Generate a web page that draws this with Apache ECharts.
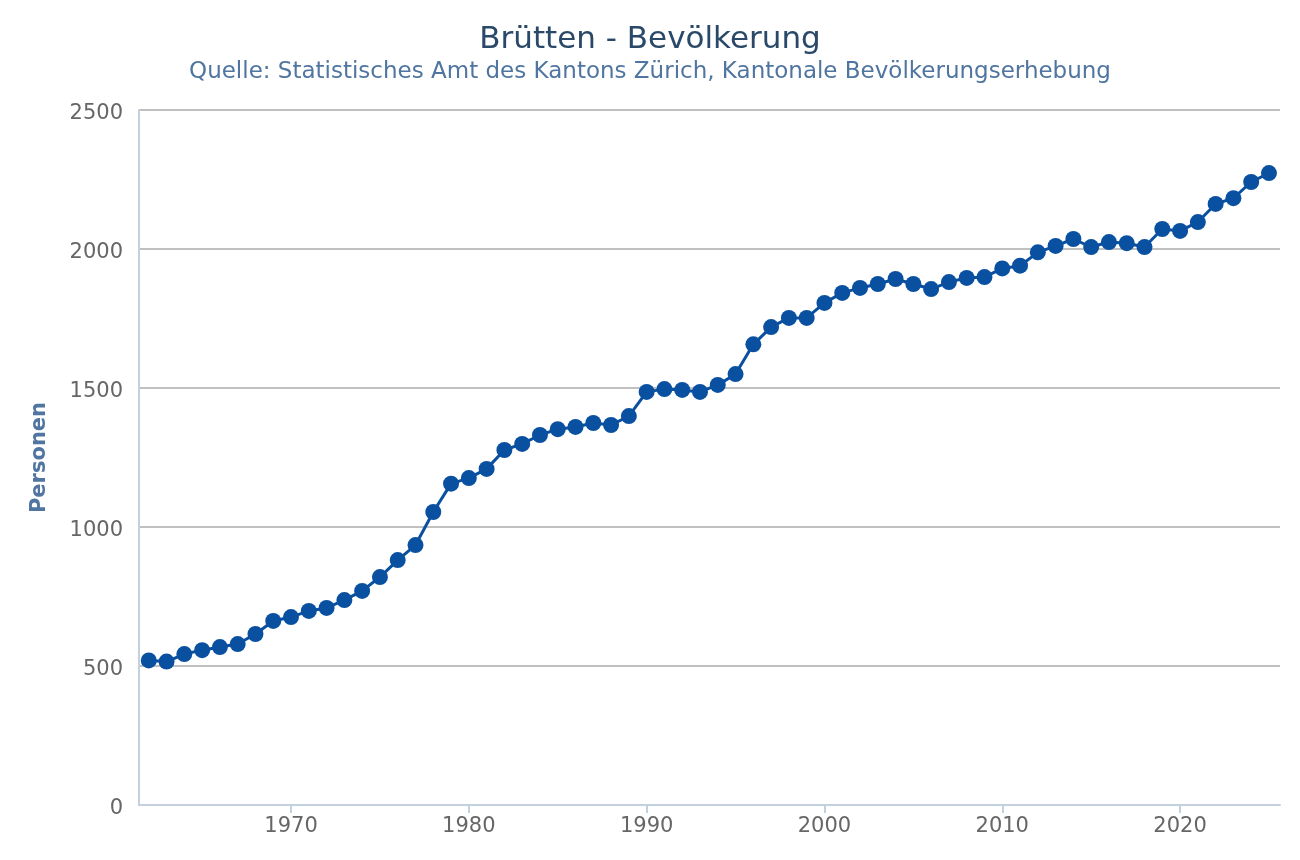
<!DOCTYPE html>
<html>
<head>
    <meta charset="utf-8" />
    <title>Brütten - Bevölkerung</title>
    <script src="https://cdn.jsdelivr.net/npm/echarts@6/dist/echarts.min.js"></script>
    <style>
        html, body { margin: 0; padding: 0; background: #fff; }
        #divChart { width: 1300px; height: 860px; }
    </style>
</head>
<body>
    <div id="divChart"></div>
    <script>
        let years = [1962, 1963, 1964, 1965, 1966, 1967, 1968, 1969, 1970, 1971,
            1972, 1973, 1974, 1975, 1976, 1977, 1978, 1979, 1980, 1981,
            1982, 1983, 1984, 1985, 1986, 1987, 1988, 1989, 1990, 1991,
            1992, 1993, 1994, 1995, 1996, 1997, 1998, 1999, 2000, 2001,
            2002, 2003, 2004, 2005, 2006, 2007, 2008, 2009, 2010, 2011,
            2012, 2013, 2014, 2015, 2016, 2017, 2018, 2019, 2020, 2021,
            2022, 2023, 2024, 2025];
        let persons = [520, 516, 543, 557, 568, 579, 615, 662, 676, 698,
            709, 737, 770, 820, 881, 935, 1054, 1156, 1176, 1209,
            1277, 1299, 1331, 1352, 1360, 1374, 1367, 1399, 1486, 1496,
            1493, 1486, 1511, 1550, 1657, 1719, 1752, 1752, 1806, 1842,
            1860, 1874, 1892, 1874, 1856, 1881, 1896, 1899, 1930, 1940,
            1988, 2011, 2036, 2007, 2025, 2021, 2007, 2072, 2065, 2097,
            2162, 2183, 2241, 2273];
        let xTicks = [1970, 1980, 1990, 2000, 2010, 2020];

        let font = 'DejaVu Sans';
        let seriesData = years.map(function (y, i) { return [y, persons[i]]; });

        let option = {
            backgroundColor: '#fff',
            animation: false,
            title: [{
                text: 'Brütten - Bevölkerung',
                left: 'center',
                top: 24,
                padding: 0,
                textStyle: { fontFamily: font, fontSize: 31, fontWeight: 'normal', color: '#2a4868' }
            }, {
                text: 'Quelle: Statistisches Amt des Kantons Zürich, Kantonale Bevölkerungserhebung',
                left: 'center',
                top: 61,
                padding: 0,
                textStyle: { fontFamily: font, fontSize: 23, fontWeight: 'normal', color: '#4f75a0' }
            }],
            grid: { left: 139, right: 20, top: 110, bottom: 55 },
            xAxis: {
                type: 'value',
                min: 1961.45,
                max: 2025.62,
                axisLine: { show: true, lineStyle: { color: '#c3d1de', width: 2 } },
                axisTick: { show: true, customValues: xTicks, length: 8, lineStyle: { color: '#c3d1de', width: 2 } },
                axisLabel: {
                    customValues: xTicks, margin: 11,
                    fontFamily: font, fontSize: 21, color: '#666',
                    formatter: function (v) { return String(v); }
                },
                splitLine: { show: false }
            },
            yAxis: {
                type: 'value',
                min: 0,
                max: 2500,
                interval: 500,
                name: 'Personen',
                nameLocation: 'middle',
                nameRotate: 90,
                nameGap: 89,
                nameTextStyle: { fontFamily: font, fontSize: 21, fontWeight: 'bold', color: '#4f75a0' },
                axisLine: { show: true, lineStyle: { color: '#c3d1de', width: 2 } },
                axisTick: { show: false },
                axisLabel: {
                    margin: 16, fontFamily: font, fontSize: 21, color: '#666',
                    verticalAlign: 'top', lineHeight: 8,
                    formatter: function (v) { return String(v); }
                },
                splitLine: { show: true, lineStyle: { color: '#c0c0c0', width: 2 } }
            },
            series: [{
                type: 'line',
                data: seriesData,
                symbol: 'circle',
                symbolSize: 16,
                lineStyle: { color: '#0a50a0', width: 3 },
                itemStyle: { color: '#0a50a0' }
            }]
        };
        echarts.init(document.getElementById('divChart')).setOption(option);
    </script>
</body>
</html>
